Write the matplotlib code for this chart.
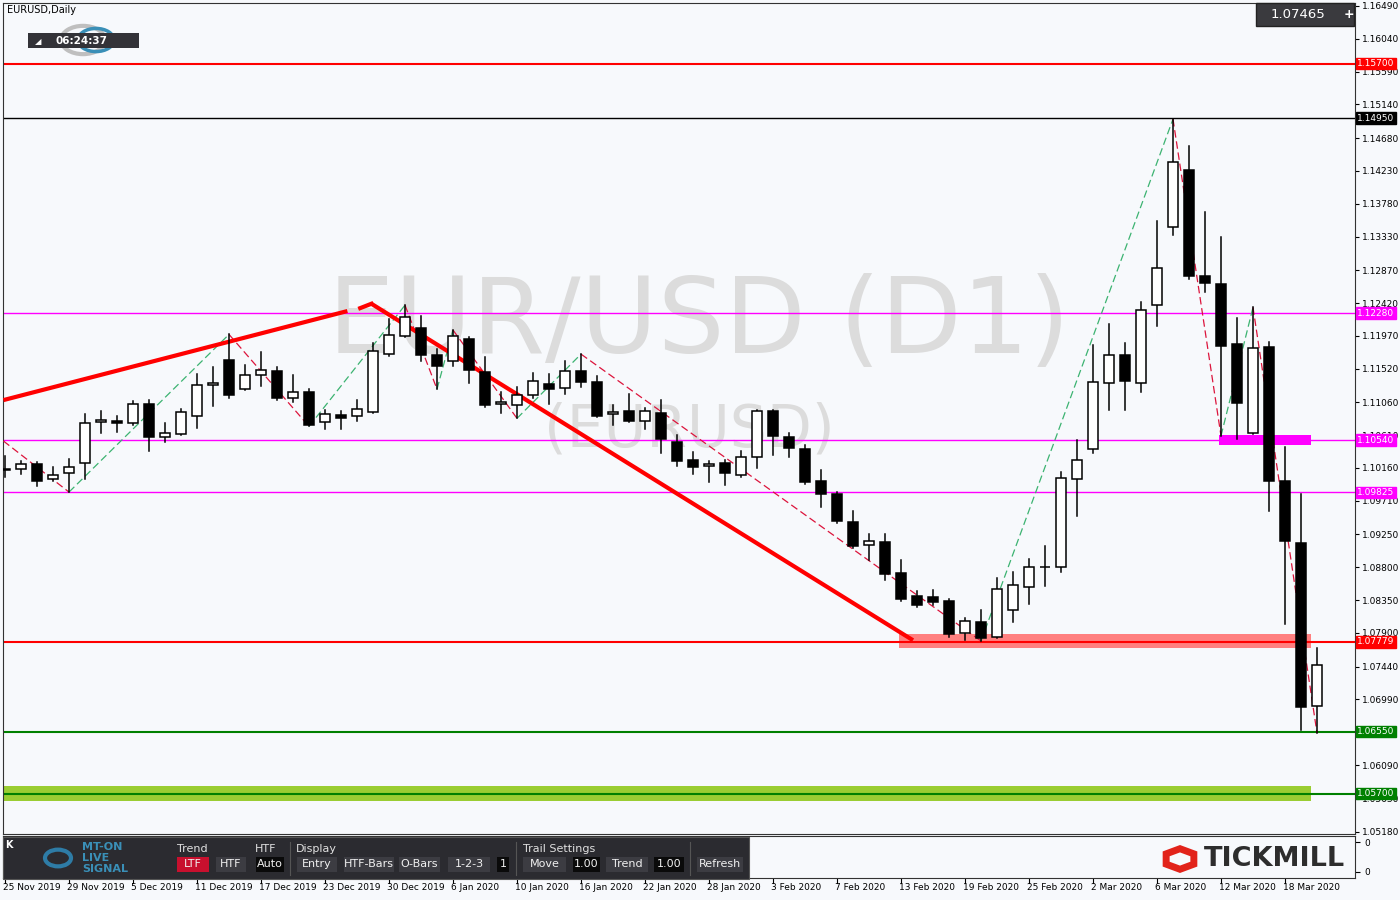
import matplotlib
matplotlib.use("Agg")
import matplotlib.pyplot as plt
import matplotlib.patches as mpatches
from matplotlib.transforms import blended_transform_factory

# ---------------- data ----------------
opens = [1.1013,1.1015,1.1021,1.1001,1.1009,1.1023,1.1079,1.1080,1.1077,1.1104,
         1.1058,1.1062,1.1087,1.1130,1.1164,1.1124,1.1143,1.1149,1.1112,1.1120,
         1.1079,1.1088,1.1087,1.1093,1.1172,1.1197,1.1208,1.1171,1.1162,1.1193,
         1.1147,1.1104,1.1102,1.1116,1.1131,1.1125,1.1149,1.1134,1.1090,1.1094,
         1.1080,1.1091,1.1051,1.1027,1.1019,1.1023,1.1006,1.1031,1.1094,1.1058,
         1.1042,1.0998,1.0980,1.0942,1.0911,1.0914,1.0872,1.0840,1.0839,1.0834,
         1.0790,1.0805,1.0785,1.0822,1.0853,1.0881,1.0881,1.1001,1.1042,1.1132,
         1.1171,1.1132,1.1239,1.1346,1.1424,1.1279,1.1268,1.1186,1.1064,1.1182,
         1.0998,1.0913,1.0690]
highs = [1.1032,1.1025,1.1024,1.1017,1.1028,1.1090,1.1094,1.1087,1.1108,1.1109,
         1.1077,1.1097,1.1145,1.1154,1.1199,1.1157,1.1175,1.1154,1.1143,1.1124,
         1.1095,1.1094,1.1109,1.1187,1.1220,1.1239,1.1224,1.1179,1.1205,1.1195,
         1.1168,1.1120,1.1127,1.1146,1.1145,1.1162,1.1172,1.1142,1.1102,1.1117,
         1.1098,1.1109,1.1061,1.1038,1.1025,1.1027,1.1039,1.1095,1.1096,1.1064,
         1.1047,1.1013,1.0983,1.0957,1.0926,1.0926,1.0890,1.0848,1.0849,1.0836,
         1.0811,1.0821,1.0865,1.0873,1.0891,1.0909,1.1010,1.1054,1.1184,1.1213,
         1.1187,1.1243,1.1354,1.1494,1.1457,1.1367,1.1332,1.1221,1.1236,1.1188,
         1.1045,1.0980,1.0770]
lows = [1.1004,1.1008,1.0991,1.0998,1.0983,1.1001,1.1064,1.1065,1.1075,1.1039,
        1.1051,1.1061,1.1071,1.1101,1.1112,1.1123,1.1128,1.1109,1.1106,1.1073,
        1.1069,1.1069,1.1080,1.1092,1.1169,1.1195,1.1162,1.1124,1.1156,1.1132,
        1.1099,1.1091,1.1084,1.1112,1.1104,1.1117,1.1127,1.1086,1.1075,1.1079,
        1.1069,1.1036,1.1019,1.1008,1.0997,1.0993,1.1004,1.1016,1.1034,1.1031,
        1.0994,1.0962,1.0941,1.0906,1.0890,1.0863,1.0834,1.0825,1.0828,1.0784,
        1.0781,1.0779,1.0783,1.0805,1.0829,1.0855,1.0873,1.0950,1.1036,1.1095,
        1.1095,1.1120,1.1210,1.1335,1.1275,1.1257,1.1060,1.1056,1.1062,1.0957,
        1.0802,1.0657,1.0653]
closes = [1.1014,1.1021,1.0998,1.1006,1.1017,1.1077,1.1082,1.1077,1.1104,1.1058,
          1.1064,1.1093,1.1130,1.1132,1.1116,1.1143,1.1150,1.1112,1.1120,1.1075,
          1.1090,1.1084,1.1097,1.1176,1.1198,1.1223,1.1171,1.1156,1.1197,1.1150,
          1.1102,1.1106,1.1116,1.1135,1.1124,1.1149,1.1134,1.1087,1.1093,1.1080,
          1.1094,1.1056,1.1025,1.1017,1.1021,1.1009,1.1031,1.1094,1.1060,1.1043,
          1.0997,1.0980,1.0943,1.0909,1.0916,1.0871,1.0837,1.0828,1.0833,1.0789,
          1.0806,1.0783,1.0850,1.0856,1.0881,1.0880,1.1002,1.1027,1.1134,1.1171,
          1.1135,1.1233,1.1290,1.1435,1.1279,1.1269,1.1183,1.1105,1.1180,1.0998,
          1.0916,1.0688,1.07465]
last_price = 1.07465

date_labels = ["25 Nov 2019","29 Nov 2019","5 Dec 2019","11 Dec 2019","17 Dec 2019",
               "23 Dec 2019","30 Dec 2019","6 Jan 2020","10 Jan 2020","16 Jan 2020",
               "22 Jan 2020","28 Jan 2020","3 Feb 2020","7 Feb 2020","13 Feb 2020",
               "19 Feb 2020","25 Feb 2020","2 Mar 2020","6 Mar 2020","12 Mar 2020",
               "18 Mar 2020"]
price_ticks = [1.16490,1.16040,1.15590,1.15140,1.14680,1.14230,1.13780,1.13330,1.12870,
               1.12420,1.11970,1.11520,1.11060,1.10610,1.10160,1.09710,1.09250,1.08800,
               1.08350,1.07900,1.07440,1.06990,1.06090,1.05630,1.05180]
levels = [(1.15700,'#FF0000'),(1.14950,'#000000'),(1.12280,'#FF00FF'),
          (1.10540,'#FF00FF'),(1.09825,'#FF00FF'),(1.07779,'#FF0000'),
          (1.06550,'#008000'),(1.05700,'#008000')]
trend_up = [(-0.1,1.1109),(21.4,1.1231)]
trend_dn = [(22.9,1.1241),(56.75,1.0780)]
zig = [(-0.1,1.1053),(4,1.0983),(14,1.1199),(19,1.1073),(25,1.1239),(27,1.1124),
       (28,1.1205),(32,1.1084),(36,1.1172),(61,1.0779),(73,1.1494),(76,1.1060),
       (78,1.1236),(82,1.0653)]

BG = '#F7F9FC'
fig = plt.figure(figsize=(14, 9), dpi=100, facecolor=BG)
W, H = 1400, 900
def fx(px): return px / W
def fy(py): return 1 - py / H

ax = fig.add_axes([fx(3), fy(834), fx(1352), 831 / H])
ax.set_facecolor(BG)
ax.set_xlim(-0.125, 84.375)
ax.set_ylim(1.05146, 1.1653)

ax.text(43.4, 1.1213, "EUR/USD (D1)", fontsize=76, color='#DCDCDC', ha='center', va='center', zorder=0)
ax.text(42.8, 1.1068, "(EURUSD)", fontsize=42, color='#DCDCDC', ha='center', va='center', zorder=0)

ax.fill_between([-0.125, 81.6], 1.0560, 1.0581, color='#9ACD32', zorder=1, lw=0)
ax.fill_between([55.9, 81.6], 1.0769, 1.0788, color='#FF8080', zorder=1, lw=0)
ax.fill_between([75.9, 81.6], 1.1048, 1.1061, color='#FF00FF', zorder=1, lw=0)

for p, c in levels:
    ax.axhline(p, color=c, lw=1.5 if c in ('#FF0000', '#008000') else 1, zorder=2)

for (x0, y0), (x1, y1) in zip(zig[:-1], zig[1:]):
    col = '#3CB371' if y1 > y0 else '#DC143C'
    ax.plot([x0, x1], [y0, y1], color=col, lw=0.9, ls=(0, (6, 3)), zorder=3)

ax.plot(*zip(*trend_up), color='#FF0000', lw=3, zorder=4, solid_capstyle='butt')
ax.plot(*zip(*trend_dn), color='#FF0000', lw=3, zorder=4, solid_capstyle='butt')
ax.plot([trend_up[1][0] + 0.8, trend_dn[0][0]], [1.1235, trend_dn[0][1]], color='#FF0000', lw=3, zorder=4)

bw = 0.64
for i, (o, h, l, c) in enumerate(zip(opens, highs, lows, closes)):
    ax.plot([i, i], [l, h], color='black', lw=1.1, zorder=5)
    bot, top = min(o, c), max(o, c)
    hgt = max(top - bot, 0.00008)
    fc = 'white' if c >= o else 'black'
    ax.add_patch(mpatches.Rectangle((i - bw / 2, bot), bw, hgt, facecolor=fc,
                                    edgecolor='black', lw=1.1, zorder=6))

ax.yaxis.tick_right()
ax.set_yticks(price_ticks)
ax.set_yticklabels([f"{t:.5f}" for t in price_ticks], fontsize=6.5)
ax.tick_params(axis='y', length=3, width=0.8, pad=2)
ax.set_xticks([])
for s in ax.spines.values():
    s.set_color('#333333'); s.set_linewidth(0.8)

for p, c in levels:
    ax.text(1.0018, p, f"{p:.5f}", transform=blended_transform_factory(ax.transAxes, ax.transData),
            fontsize=6.5, color='white', va='center', ha='left', zorder=10,
            bbox=dict(boxstyle='square,pad=0.15', fc=c, ec=c))

tr = blended_transform_factory(ax.transData, fig.transFigure)
for k, lab in enumerate(date_labels):
    ax.text(k * 4 - 0.12, fy(888), lab, transform=tr, fontsize=6.5, ha='left', va='center', clip_on=False)
    ax.plot([k * 4, k * 4], [fy(879), fy(883)], transform=tr, color='black', lw=0.8, clip_on=False)

ax2 = fig.add_axes([fx(3), fy(878), fx(1352), 42 / H])
ax2.set_facecolor(BG)
ax2.set_xticks([]); ax2.set_ylim(0, 1)
ax2.yaxis.tick_right(); ax2.set_yticks([0.15, 0.85]); ax2.set_yticklabels(['0', '0'], fontsize=6.5)
for s in ax2.spines.values():
    s.set_color('#333333'); s.set_linewidth(0.8)

fig.patches.append(mpatches.Rectangle((fx(3), fy(879)), fx(746), 42 / H, transform=fig.transFigure,
                                      fc='#2B2B30', ec='#555555', lw=0.8))
fig.text(fx(9), fy(845), "K", fontsize=7, color='white', fontweight='bold', va='center', ha='center')
fig.text(fx(82), fy(847), "MT-ON", fontsize=8, color='#3A8FB7', fontweight='bold', va='center')
fig.text(fx(82), fy(858), "LIVE", fontsize=8, color='#3A8FB7', fontweight='bold', va='center')
fig.text(fx(82), fy(869), "SIGNAL", fontsize=8, color='#3A8FB7', fontweight='bold', va='center')
fig.patches.append(mpatches.Circle((fx(58), fy(858)), 13 / W, transform=fig.transFigure,
                                   fc='none', ec='#2E7CA6', lw=3))
for lab, x in [("Trend", 177), ("HTF", 255), ("Display", 296), ("Trail Settings", 523)]:
    fig.text(fx(x), fy(849), lab, fontsize=8, color='#E0E0E0', va='center')
buttons = [("LTF", 177, 209, '#C8102E'), ("HTF", 216, 246, '#3C3C42'), ("Auto", 256, 284, '#0A0A0A'),
           ("Entry", 297, 337, '#3C3C42'), ("HTF-Bars", 344, 394, '#3C3C42'), ("O-Bars", 399, 440, '#3C3C42'),
           ("1-2-3", 448, 490, '#3C3C42'), ("1", 497, 509, '#0A0A0A'), ("Move", 523, 566, '#3C3C42'),
           ("1.00", 573, 600, '#0A0A0A'), ("Trend", 606, 648, '#3C3C42'), ("1.00", 654, 684, '#0A0A0A'),
           ("Refresh", 697, 743, '#3C3C42')]
for lab, x0, x1, c in buttons:
    fig.patches.append(mpatches.Rectangle((fx(x0), fy(872)), fx(x1 - x0), 15 / H,
                                          transform=fig.transFigure, fc=c, ec='none'))
    fig.text(fx((x0 + x1) / 2), fy(864), lab, fontsize=8, color='#F0F0F0', ha='center', va='center')
for x in [290, 516, 690]:
    fig.lines.append(plt.Line2D([fx(x), fx(x)], [fy(875), fy(842)], transform=fig.transFigure,
                                color='#555555', lw=0.8))

fig.patches.append(mpatches.RegularPolygon((fx(1180), fy(859)), 6, radius=16 / W,
                                           transform=fig.transFigure, fc='none', ec='#E2231A', lw=5))
fig.text(fx(1204), fy(859), "TICKMILL", fontsize=19.5, fontweight='bold', color='#2D2D2D', va='center')

fig.text(fx(7), fy(10), "EURUSD,Daily", fontsize=7, color='black', va='center')
fig.patches.append(mpatches.Circle((fx(83), fy(40)), 22 / W, transform=fig.transFigure,
                                   fc='none', ec='#BFBFBF', lw=3))
fig.patches.append(mpatches.Circle((fx(96), fy(40)), 18 / W, transform=fig.transFigure,
                                   fc='none', ec='#3A8FB7', lw=2.5))
fig.patches.append(mpatches.Rectangle((fx(28), fy(48)), fx(111), 15 / H, transform=fig.transFigure,
                                      fc='#333338', ec='none'))
fig.text(fx(82), fy(40.5), "06:24:37", fontsize=7.5, color='white', fontweight='bold', ha='center', va='center')
fig.text(fx(38), fy(42), "◢", fontsize=6, color='white', ha='center', va='center')

fig.patches.append(mpatches.Rectangle((fx(1256), fy(26)), fx(98), 23 / H, transform=fig.transFigure,
                                      fc='#3A3A3E', ec='#222222'))
fig.text(fx(1298), fy(14.5), f"{last_price:.5f}", fontsize=9.5, color='white', ha='center', va='center')
fig.text(fx(1349), fy(14.5), "+", fontsize=9, color='white', ha='center', va='center', fontweight='bold')

fig.savefig("out.png", dpi=100, facecolor=BG)
